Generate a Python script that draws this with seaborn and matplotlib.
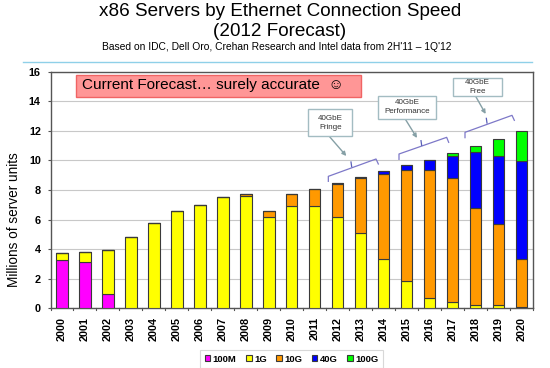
import matplotlib
matplotlib.use("Agg")
import matplotlib.pyplot as plt
import seaborn as sns
from matplotlib.patches import Rectangle

years = ["2000","2001","2002","2003","2004","2005","2006","2007","2008","2009","2010",
         "2011","2012","2013","2014","2015","2016","2017","2018","2019","2020"]
v100m = [3.25,3.10,1.00,0,0,0,0,0,0,0,0,0,0,0,0,0,0,0,0,0,0]
v1g = [0.52,0.70,2.97,4.82,5.77,6.57,7.00,7.50,7.60,6.20,6.94,6.90,6.20,5.07,3.33,1.83,0.70,0.42,0.20,0.20,0.12]
v10g = [0,0,0,0,0,0,0,0.03,0.13,0.38,0.78,1.13,2.20,3.71,5.77,7.54,8.67,8.41,6.60,5.52,3.24]
v40g = [0,0,0,0,0,0,0,0,0,0,0,0,0.05,0.12,0.18,0.31,0.65,1.47,3.74,4.60,6.59]
v100g = [0,0,0,0,0,0,0,0,0,0,0,0,0,0,0,0,0,0.20,0.43,1.12,2.01]

names = ["100M","1G","10G","40G","100G"]
colors = ["#ff00ff","#ffff00","#ff9900","#0000ff","#00ff00"]
series = [v100m,v1g,v10g,v40g,v100g]

plt.rcParams['font.family'] = ['Liberation Sans','DejaVu Sans']
W = 550
H = 368
fig = plt.figure(figsize=(5.5,3.68),dpi=100)
ax = fig.add_axes([50.5/W,1-308.3/H,482.5/W,236.8/H])

#stacked bars
bottom = [0]*len(years)
for name,col,vals in zip(names,colors,series):
    sns.barplot(x=years,y=vals,bottom=bottom,color=col,saturation=1,width=0.5,
                edgecolor="#3a3a3a",linewidth=0.8,label=name,ax=ax,zorder=3)
    bottom = [b+v for b,v in zip(bottom,vals)]

ax.set_xlim(-0.5,20.5)
ax.set_ylim(0,16)
ax.set_yticks(range(0,17,2))
ax.set_xlabel("")
ax.set_ylabel("Millions of server units",fontsize=9.8)
ax.yaxis.set_label_coords(-29.5/482.5,0.375)
ax.grid(axis='y',color="#c8c8c8",linewidth=0.8,zorder=0)
ax.set_axisbelow(True)
for s in ax.spines.values():
    s.set_color("#555555")
    s.set_linewidth(1)
ax.tick_params(axis='y',labelsize=7.8,length=2,color="#555555",pad=5)
ax.tick_params(axis='x',labelsize=7.8,length=0,rotation=90,pad=6)
for t in ax.get_xticklabels()+ax.get_yticklabels():
    t.set_fontweight('bold')
#ticks between the categories
for i in range(22):
    ax.plot([i-0.5,i-0.5],[0,-0.1],color="#555555",linewidth=0.8,clip_on=False)
ax.set_ylim(0,16)

#legend
handles,labels = ax.get_legend_handles_labels()
ax.get_legend().remove()
leg = fig.legend(handles,labels,loc='center',bbox_to_anchor=(291.5/W,1-359/H),ncol=5,
                 prop={'weight':'bold','size':6.8},frameon=True,fancybox=False,
                 edgecolor="#cfcfcf",handlelength=0.6,handleheight=0.6,
                 handletextpad=0.25,columnspacing=1.0,borderpad=0.45)
leg.get_frame().set_linewidth(0.8)

#title
fig.text(280/W,1-12/H,"x86 Servers by Ethernet Connection Speed",fontsize=13.6,ha='center',va='center')
fig.text(280/W,1-32/H,"(2012 Forecast)",fontsize=13.6,ha='center',va='center')
fig.text(277/W,1-47/H,"Based on IDC, Dell Oro, Crehan Research and Intel data from 2H'11 \u2013 1Q'12",
         fontsize=7.4,ha='center',va='center')
fig.add_artist(plt.Line2D([23/W,532/W],[1-61.5/H,1-61.5/H],color="#8fd0e8",linewidth=1))

#forecast banner
fig.add_artist(Rectangle((75.7/W,1-97/H),285.3/W,22/H,transform=fig.transFigure,
                         facecolor="#ff9696",edgecolor="#f06464",linewidth=1,zorder=5))
fig.text(82/W,1-85/H,"Current Forecast\u2026 surely accurate  \u263a",fontsize=11,va='center',zorder=6)

def zx(x):
    return (275+x/3)/W

def zy(y):
    return 1-(60+y/3)/H

#callouts, coordinates from the right hand part of the slide
callouts = [("40GbE\nFringe",(100,148,232,228),(162,228),(214,288),
             [(160,364),(160,349),(303,297),(310,312)],(230,320)),
            ("40GbE\nPerformance",(310,108,482,176),(390,176),(426,234),
             [(372,298),(372,282),(515,232),(521,247)],(440,256)),
            ("40GbE\nFree",(534,55,680,109),(602,109),(632,162),
             [(570,233),(570,217),(711,166),(718,181)],(636,189))]
for txt,box,a,b,br,tip in callouts:
    fig.add_artist(Rectangle((zx(box[0]),zy(box[3])),zx(box[2])-zx(box[0]),zy(box[1])-zy(box[3]),
                             transform=fig.transFigure,facecolor="white",edgecolor="#a3bcc2",
                             linewidth=1,zorder=5))
    fig.text(zx((box[0]+box[2])/2),zy((box[1]+box[3])/2),txt,fontsize=5.8,ha='center',va='center',
             color="#333333",linespacing=1.45,zorder=6)
    ax.annotate("",xy=(zx(b[0]),zy(b[1])),xytext=(zx(a[0]),zy(a[1])),
                xycoords='figure fraction',textcoords='figure fraction',zorder=6,
                arrowprops=dict(arrowstyle='-|>',color="#86a0a6",linewidth=1,mutation_scale=6,
                                shrinkA=0,shrinkB=0))
    fig.add_artist(plt.Line2D([zx(p[0]) for p in br],[zy(p[1]) for p in br],color="#7d78c8",
                              linewidth=0.9,zorder=6))
    mx = tip[0]
    fig.add_artist(plt.Line2D([zx(mx),zx(mx-2)],[zy(tip[1]),zy(tip[1]-14)],color="#5a60b8",
                              linewidth=0.9,zorder=6))

plt.savefig("out.png",dpi=100)
